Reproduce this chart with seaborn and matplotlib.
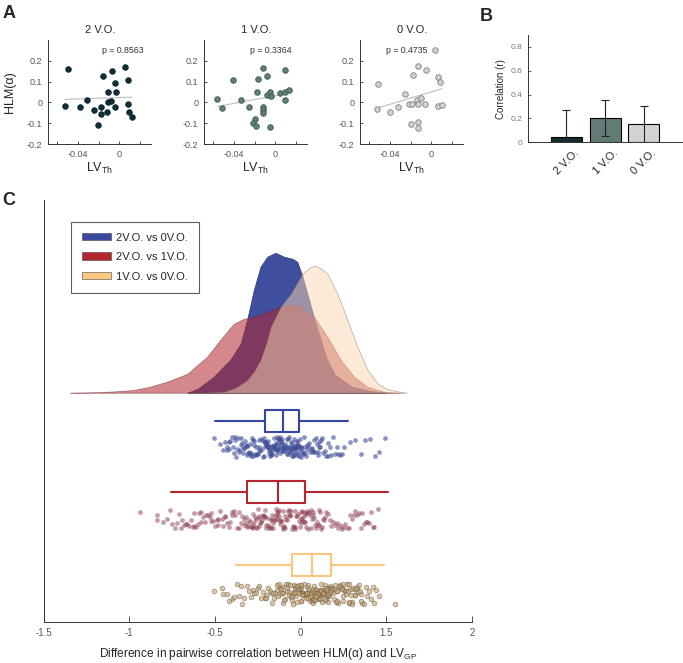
import numpy as np
import matplotlib
matplotlib.use('Agg')
import matplotlib.pyplot as plt
import seaborn as sns
from matplotlib.patches import Patch

# ---- panel A: LV_Th vs HLM(alpha)
vo2_x = [-0.050, -0.053, -0.038, -0.031, -0.025, -0.021, -0.018, -0.018, -0.016, -0.012, -0.011,
         -0.011, -0.008, -0.007, -0.004, -0.003, -0.004, 0.005, 0.008, 0.008, 0.009, 0.012]
vo2_y = [0.159, -0.019, -0.024, 0.013, -0.038, -0.111, -0.054, -0.022, 0.125, -0.046, 0.048,
         0.000, 0.008, 0.152, 0.093, 0.051, -0.022, 0.170, 0.106, -0.008, -0.047, -0.068]
vo1_x = [-0.056, -0.052, -0.041, -0.033, -0.026, -0.020, -0.022, -0.019, -0.018, -0.017, -0.012, -0.012,
         -0.012, -0.012, -0.008, -0.008, -0.005, -0.004, -0.005, 0.004, 0.009, 0.009, 0.009, 0.013]
vo1_y = [0.018, -0.029, 0.109, 0.013, -0.021, -0.080, -0.101, -0.114, 0.048, 0.112, 0.165, -0.024,
         -0.035, -0.053, 0.128, 0.035, 0.051, 0.029, -0.120, 0.045, 0.157, 0.048, 0.013, 0.058]
vo0_x = [-0.053, -0.052, -0.040, -0.032, -0.026, -0.022, -0.019, -0.020, -0.018, -0.014, -0.013,
         -0.013, -0.013, -0.013, -0.010, -0.006, -0.005, 0.003, 0.006, 0.008, 0.006, 0.010]
vo0_y = [-0.034, 0.088, -0.046, -0.022, 0.042, -0.010, -0.008, -0.104, 0.132, 0.010, -0.008,
         -0.093, -0.122, 0.175, 0.021, -0.008, 0.157, 0.250, 0.124, 0.100, -0.017, -0.013]
groups = ['2 V.O.', '1 V.O.', '0 V.O.']
p_values = ['p = 0.8563', 'p = 0.3364', 'p = 0.4735']
a_xticks = [-0.06, -0.04, -0.02, 0, 0.02]
a_xticklabels = ['', '-0.04', '', '0', '']
a_yticks = [-0.2, -0.1, 0, 0.1, 0.2]
a_yticklabels = ['-0.2', '-0.1', '0', '0.1', '0.2']

# ---- panel B: correlation per group
corr_r = [0.042, 0.203, 0.152]
corr_err = [0.23, 0.15, 0.155]
b_yticks = [0, 0.2, 0.4, 0.6, 0.8]
b_yticklabels = ['0', '0.2', '0.4', '0.6', '0.8']

# ---- panel C: density outlines (x, height in a.u.)
blue_dx = [-0.66, -0.6, -0.507, -0.41, -0.35, -0.312, -0.273, -0.234, -0.195, -0.146, -0.097,
           -0.049, -0.02, 0.01, 0.049, 0.088, 0.15, 0.2, 0.3, 0.4, 0.5]
blue_dh = [0, 4, 16, 33, 49, 73, 103, 126, 136, 140, 136, 134, 131, 117, 93, 69, 35, 18, 6, 2, 0]
red_dx = [-1.345, -1.2, -1.1, -0.975, -0.88, -0.78, -0.66, -0.546, -0.468, -0.39, -0.33, -0.273,
          -0.195, -0.117, -0.058, 0.0, 0.078, 0.156, 0.234, 0.312, 0.39, 0.487, 0.58]
red_dh = [0, 0.5, 1.2, 2.7, 6, 11, 19, 36, 53, 69, 74, 76, 81, 86, 88, 86, 76, 56, 33, 16, 6, 1, 0]
yel_dx = [-0.65, -0.55, -0.448, -0.38, -0.312, -0.27, -0.234, -0.2, -0.175, -0.117, -0.058, 0.01,
          0.05, 0.085, 0.12, 0.156, 0.214, 0.273, 0.331, 0.39, 0.448, 0.5, 0.56, 0.62]
yel_dh = [0, 0.3, 1, 5, 12.7, 22, 33, 50, 66, 86, 99, 119, 125, 127, 124, 119, 99, 73, 46, 23,
          9.4, 4, 1.5, 0]

# box stats: whislo, q1, med, q3, whishi
blue_box = [-0.50, -0.21, -0.105, -0.01, 0.275]
red_box = [-0.756, -0.31, -0.133, 0.026, 0.51]
yel_box = [-0.375, -0.053, 0.066, 0.178, 0.487]

# raindrops (estimated values of the pairwise differences)
blue_rain = [-0.505, -0.45, -0.44, -0.42, -0.41, -0.40, -0.38, -0.37, -0.36, -0.35,
             -0.34, -0.33, -0.32, -0.31, -0.30, -0.295, -0.29, -0.28, -0.27, -0.26, -0.25, -0.24, -0.23, -0.22, -0.21,
             -0.205, -0.20, -0.195, -0.19, -0.185, -0.18, -0.175, -0.17, -0.165, -0.16, -0.155, -0.15, -0.145,
             -0.14, -0.14, -0.135, -0.13, -0.13, -0.125, -0.12, -0.12, -0.115, -0.11, -0.11, -0.105,
             -0.10, -0.095, -0.09, -0.085, -0.08, -0.075, -0.07, -0.065, -0.06, -0.055, -0.05, -0.05, -0.045,
             -0.04, -0.04, -0.035, -0.03, -0.03, -0.025, -0.02, -0.02, -0.015, -0.015, -0.01, -0.01,
             0.0, 0.01, 0.02, 0.025, 0.03, 0.04, 0.05, 0.06, 0.07, 0.08, 0.09, 0.10, 0.11, 0.12, 0.13,
             0.15, 0.17, 0.19, 0.21, 0.23, 0.256, 0.32, 0.378, 0.434, 0.49,
             -0.43, -0.415, -0.395, -0.385, -0.375, -0.365, -0.355, -0.345, -0.335, -0.325,
             -0.315, -0.305, -0.298, -0.285, -0.275, -0.265, -0.255, -0.245, -0.235, -0.225,
             -0.215, -0.208, -0.198, -0.188, -0.178, -0.168, -0.158, -0.148, -0.138, -0.128,
             -0.118, -0.108, -0.098, -0.088, -0.078, -0.068, -0.058, -0.048, -0.038, -0.028,
             -0.018, -0.008, 0.002, 0.012, 0.022, 0.035, 0.045, 0.055, 0.065, 0.075,
             -0.212, -0.202, -0.192, -0.182, -0.172, -0.162, -0.152, -0.142, -0.132, -0.122,
             -0.112, -0.102, -0.092, -0.082, -0.072, -0.062, -0.052, -0.042, -0.032, -0.022,
             -0.26, -0.24, -0.22, -0.005, 0.005, 0.015, 0.085, 0.095, 0.105, 0.115,
             0.125, 0.14, 0.16, 0.18, 0.20, 0.22, -0.33, -0.31, -0.29, -0.27,
             -0.39, -0.43, 0.29, 0.35, 0.405, 0.46, -0.47, 0.24, 0.16, 0.10]
red_rain = [-0.937, -0.84, -0.84, -0.76, -0.73, -0.71, -0.69, -0.66, -0.64, -0.62, -0.60, -0.58, -0.56,
            -0.54, -0.52, -0.50, -0.48, -0.46, -0.44, -0.42, -0.40, -0.38, -0.36, -0.34, -0.32,
            -0.305, -0.30, -0.29, -0.285, -0.28, -0.27, -0.26, -0.255, -0.25, -0.24, -0.23, -0.225, -0.22,
            -0.21, -0.20, -0.195, -0.19, -0.18, -0.17, -0.165, -0.16, -0.155, -0.15, -0.14, -0.135,
            -0.13, -0.125, -0.12, -0.11, -0.10, -0.095, -0.09, -0.08, -0.07, -0.065, -0.06, -0.05, -0.045,
            -0.04, -0.03, -0.025, -0.02, -0.01, -0.005, 0.0, 0.005, 0.01, 0.015, 0.02, 0.025,
            0.03, 0.04, 0.05, 0.06, 0.07, 0.08, 0.09, 0.10, 0.11, 0.12, 0.13, 0.14, 0.15, 0.17, 0.19,
            0.21, 0.23, 0.25, 0.27, 0.30, 0.33, 0.36, 0.39, 0.42, 0.454,
            -0.72, -0.70, -0.68, -0.67, -0.65, -0.63, -0.61, -0.59, -0.57, -0.55,
            -0.53, -0.51, -0.49, -0.47, -0.45, -0.43, -0.41, -0.39, -0.37, -0.35,
            -0.33, -0.315, -0.295, -0.275, -0.265, -0.245, -0.235, -0.215, -0.205, -0.185,
            -0.175, -0.16, -0.145, -0.138, -0.128, -0.118, -0.105, -0.085, -0.075, -0.055,
            -0.035, -0.015, 0.008, 0.018, 0.035, 0.045, 0.055, 0.065, 0.075, 0.085,
            0.095, 0.105, 0.115, 0.125, 0.135, 0.16, 0.18, 0.20, 0.22, 0.24,
            0.26, 0.28, 0.29, 0.31, 0.32, 0.34, 0.35, 0.37, 0.38, 0.40,
            -0.62, -0.58, -0.52, -0.48, -0.44, -0.40, -0.36, -0.32, -0.26, -0.24,
            -0.20, -0.17, -0.15, -0.12, -0.09, -0.06, -0.03, 0.0, 0.03, 0.06,
            -0.78, -0.75, 0.41, 0.43, -0.80, -0.33, -0.28, -0.22, -0.10, 0.02]
yel_rain = [-0.505, -0.46, -0.43, -0.40, -0.37, -0.34, -0.31, -0.28, -0.25, -0.23, -0.21, -0.19, -0.17,
            -0.155, -0.14, -0.13, -0.12, -0.11, -0.10, -0.09, -0.085, -0.08, -0.07, -0.065, -0.055,
            -0.05, -0.045, -0.04, -0.035, -0.03, -0.025, -0.02, -0.015, -0.01, -0.005, 0.0, 0.005, 0.01,
            0.015, 0.02, 0.025, 0.03, 0.035, 0.04, 0.045, 0.05, 0.055, 0.058, 0.062, 0.065,
            0.07, 0.075, 0.08, 0.085, 0.09, 0.095, 0.10, 0.105, 0.11, 0.115, 0.12, 0.125, 0.13, 0.135,
            0.14, 0.145, 0.15, 0.155, 0.16, 0.165, 0.168, 0.17, 0.172, 0.175, 0.178,
            0.185, 0.19, 0.20, 0.21, 0.22, 0.23, 0.24, 0.25, 0.26, 0.27, 0.28, 0.29, 0.30, 0.31, 0.32,
            0.33, 0.34, 0.35, 0.36, 0.38, 0.40, 0.42, 0.44, 0.46, 0.548,
            -0.42, -0.39, -0.36, -0.33, -0.30, -0.27, -0.26, -0.24, -0.22, -0.20,
            -0.18, -0.165, -0.15, -0.135, -0.125, -0.115, -0.105, -0.095, -0.075, -0.06,
            -0.048, -0.038, -0.028, -0.018, -0.008, 0.002, 0.012, 0.022, 0.032, 0.042,
            0.052, 0.06, 0.068, 0.072, 0.078, 0.082, 0.088, 0.092, 0.098, 0.102,
            0.108, 0.112, 0.118, 0.122, 0.128, 0.132, 0.138, 0.142, 0.148, 0.152,
            0.158, 0.162, 0.18, 0.195, 0.205, 0.215, 0.225, 0.235, 0.245, 0.255,
            0.265, 0.275, 0.285, 0.295, 0.305, 0.315, 0.325, 0.335, 0.345, 0.37,
            0.39, 0.41, -0.20, -0.16, -0.12, -0.08, -0.04, 0.0, 0.04, 0.08,
            0.12, 0.16, 0.20, 0.24, 0.28, -0.45, -0.35, -0.29, -0.11, -0.02,
            0.01, 0.05, 0.09, 0.13, 0.17, 0.21, 0.25, 0.30, 0.35, 0.43]
c_labels = ['2V.O. vs 0V.O.', '2V.O. vs 1V.O.', '1V.O. vs 0V.O.']
c_xticks = [-1.5, -1, -0.5, 0, 0.5, 1]
c_xticklabels = ['-1.5', '-1', '-0.5', '0', '1.5', '2']

sns.set_style('ticks')
plt.rcParams['font.family'] = ['Liberation Sans', 'DejaVu Sans']
plt.rcParams['mathtext.default'] = 'regular'

fig = plt.figure(figsize=(6.83, 6.63), dpi=100)
tick_grey = '#555555'

# ---------------- panel A
scatter_face = ['#0f2f36', '#5f7f7a', '#d2d2d2']
scatter_edge = ['#0a2228', '#3d5752', '#7f7f7f']
a_lefts = [0.0703, 0.2987, 0.5271]
p_xpos = [0.52, 0.44, 0.25]
a_data = [(vo2_x, vo2_y), (vo1_x, vo1_y), (vo0_x, vo0_y)]
for i, (xs, ys) in enumerate(a_data):
    ax = fig.add_axes([a_lefts[i], 0.7828, 0.1515, 0.1569])
    sns.regplot(x=xs, y=ys, ax=ax, ci=None, truncate=True, color=scatter_face[i],
                scatter_kws=dict(s=16, edgecolors=scatter_edge[i], linewidths=0.6, alpha=1, zorder=3),
                line_kws=dict(color='#c4c4c4', lw=0.9, zorder=2))
    ax.set_xlim(-0.069, 0.031)
    ax.set_ylim(-0.2, 0.3)
    ax.set_xticks(a_xticks)
    ax.set_xticklabels(a_xticklabels)
    ax.set_yticks(a_yticks)
    ax.set_yticklabels(a_yticklabels)
    ax.tick_params(direction='in', length=2.5, width=0.6, labelsize=6.5, labelcolor=tick_grey,
                   color='#333333', pad=4)
    sns.despine(ax=ax)
    for s in ['left', 'bottom']:
        ax.spines[s].set_linewidth(0.7)
        ax.spines[s].set_color('#333333')
    ax.set_title(groups[i], fontsize=8, pad=5)
    ax.text(p_xpos[i], 0.895, p_values[i], transform=ax.transAxes, fontsize=6.3,
            ha='left', va='center', color='#333333')
    ax.set_xlabel(r'LV$_{Th}$', fontsize=9, labelpad=2)
    if i == 0:
        ax.set_ylabel('HLM(α)', fontsize=9, labelpad=8)

# ---------------- panel B
axb = fig.add_axes([0.7726, 0.7854, 0.2270, 0.1618])
sns.barplot(x=groups, y=corr_r, hue=groups, palette=scatter_face, legend=False,
            edgecolor='black', linewidth=0.8, width=0.8, ax=axb)
axb.errorbar(x=range(len(groups)), y=corr_r, yerr=corr_err, fmt='none', ecolor='#222222',
             elinewidth=0.8, capsize=3, capthick=0.8, zorder=5)
axb.set_xlim(-1, 3)
axb.set_ylim(0, 0.9)
axb.set_yticks(b_yticks)
axb.set_yticklabels(b_yticklabels)
axb.set_xticks(range(len(groups)))
axb.set_xticklabels(groups, rotation=45, ha='center', fontsize=8)
axb.tick_params(axis='y', direction='in', length=2, width=0.5, labelsize=6, labelcolor='#777777', pad=4)
axb.tick_params(axis='x', length=0, pad=4)
axb.set_ylabel('Correlation (r)', fontsize=7, labelpad=3)
sns.despine(ax=axb)
for s in ['left', 'bottom']:
    axb.spines[s].set_linewidth(0.7)
    axb.spines[s].set_color('#333333')

# ---------------- panel C
axc = fig.add_axes([0.0637, 0.0618, 0.6274, 0.6365])
base = 229.3
dens = [(blue_dx, blue_dh, '#3a489c', 0.97, '#2a3470'),
        (red_dx, red_dh, '#b3262d', 0.55, '#6a1a20'),
        (yel_dx, yel_dh, '#fad7af', 0.5, '#6f6050')]
for dx, dh, col, alph, ec in dens:
    axc.fill_between(dx, base, base + np.array(dh), facecolor=col, alpha=alph,
                     edgecolor=ec, linewidth=0.5, zorder=2)

box_cols = ['#3345a6', '#b3262d', '#fcc57f']
box_pos = [201.5, 130.5, 56.7]
for stats, col, pos in zip([blue_box, red_box, yel_box], box_cols, box_pos):
    st = dict(whislo=stats[0], q1=stats[1], med=stats[2], q3=stats[3], whishi=stats[4], label='')
    props = dict(color=col, linewidth=1.5)
    axc.bxp([st], positions=[pos], widths=22, orientation='horizontal', showfliers=False,
            showcaps=False, boxprops=props, whiskerprops=props, medianprops=props,
            manage_ticks=False)

rain_pos = [175, 103, 28]
rain_style = [dict(color='#3f4d98', alpha=0.6, linewidth=0),
              dict(color='#8a3a4e', alpha=0.5, linewidth=0),
              dict(color='#c4a070', alpha=0.6, linewidth=0.5, edgecolor='#66563f')]
for vals, pos, sty in zip([blue_rain, red_rain, yel_rain], rain_pos, rain_style):
    sns.stripplot(x=vals, y=np.full(len(vals), pos), orient='y', native_scale=True,
                  jitter=10, size=3.4, ax=axc, **sty)

axc.set_xlim(-1.5, 1.0)
axc.set_ylim(0, 422)
axc.set_yticks([])
axc.set_xticks(c_xticks)
axc.set_xticklabels(c_xticklabels)
axc.tick_params(axis='x', direction='in', length=4, width=0.6, labelsize=7, labelcolor=tick_grey,
                color='#333333', pad=4)
axc.set_ylabel('')
axc.set_xlabel(r'Difference in pairwise correlation between HLM(α) and LV$_{GP}$', fontsize=8.6,
               labelpad=6)
sns.despine(ax=axc)
for s in ['left', 'bottom']:
    axc.spines[s].set_linewidth(0.7)
    axc.spines[s].set_color('#333333')

handles = [Patch(facecolor=c, edgecolor='#444444', linewidth=0.4, label=l)
           for c, l in zip(['#3a489e', '#b3262d', '#fdc882'], c_labels)]
leg = axc.legend(handles=handles, loc='upper left', bbox_to_anchor=(0.063, 0.949), borderaxespad=0,
                 frameon=True, fancybox=False, edgecolor='#333333', fontsize=8, handlelength=2.6,
                 handleheight=0.65, labelspacing=0.85, borderpad=1.0, handletextpad=0.5)
leg.get_frame().set_linewidth(0.8)

# panel letters
fig.text(0.003, 0.992, 'A', fontsize=13, fontweight='bold', va='top')
fig.text(0.703, 0.988, 'B', fontsize=13, fontweight='bold', va='top')
fig.text(0.003, 0.71, 'C', fontsize=13, fontweight='bold', va='top')

fig.savefig('out.png', dpi=100)
